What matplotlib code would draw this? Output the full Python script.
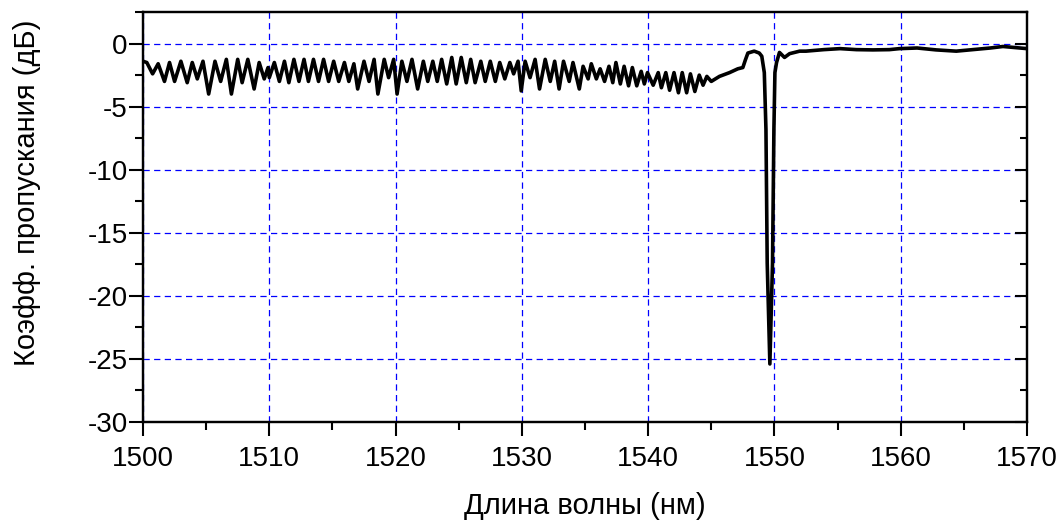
import matplotlib
matplotlib.use("Agg")
import matplotlib.pyplot as plt
from matplotlib.ticker import MultipleLocator

plt.rcParams['font.family'] = ['Liberation Sans', 'DejaVu Sans']
plt.rcParams['axes.unicode_minus'] = False

# спектр пропускания: длина волны (нм) и коэффициент пропускания (дБ)
wl_1500 = [1500.0, 1500.3, 1500.76, 1501.2, 1501.7, 1502.1, 1502.5, 1503.0, 1503.5, 1503.9,
           1504.3, 1504.75, 1505.2, 1505.7, 1506.15, 1506.6, 1507.0, 1507.5, 1507.85, 1508.3,
           1508.8, 1509.2, 1509.6, 1509.9]
tr_1500 = [-1.4, -1.5, -2.4, -1.6, -3.0, -1.5, -3.0, -1.4, -3.1, -1.5,
           -2.8, -1.4, -4.0, -1.4, -3.0, -1.25, -4.0, -1.25, -3.1, -1.25,
           -3.6, -1.5, -2.8, -1.9]

wl_1510 = [1510.0, 1510.4, 1510.8, 1511.2, 1511.55, 1511.95, 1512.35, 1512.75, 1513.1, 1513.5,
           1513.9, 1514.3, 1514.7, 1515.1, 1515.5, 1515.95, 1516.3, 1516.7, 1517.0, 1517.5,
           1517.9, 1518.3, 1518.6, 1519.1, 1519.45, 1519.85]
tr_1510 = [-2.7, -1.5, -3.0, -1.4, -3.1, -1.25, -3.0, -1.25, -3.0, -1.25,
           -3.0, -1.25, -3.0, -1.4, -3.0, -1.5, -3.0, -1.6, -3.6, -1.4,
           -3.0, -1.25, -4.0, -1.25, -2.7, -1.25]

wl_1520 = [1520.12, 1520.5, 1520.9, 1521.3, 1521.75, 1522.2, 1522.55, 1522.95, 1523.3, 1523.65,
           1524.05, 1524.45, 1524.8, 1525.2, 1525.6, 1525.95, 1526.3, 1526.75, 1527.1, 1527.5,
           1527.9, 1528.25, 1528.65, 1529.05, 1529.35, 1529.7, 1529.95]
tr_1520 = [-4.0, -1.4, -3.0, -1.25, -3.6, -1.4, -3.0, -1.4, -3.0, -1.25,
           -3.2, -1.1, -3.2, -1.1, -3.1, -1.25, -3.1, -1.4, -3.0, -1.4,
           -3.0, -1.5, -2.8, -1.5, -2.4, -1.4, -3.75]

wl_1530 = [1530.26, 1530.65, 1531.05, 1531.4, 1531.85, 1532.25, 1532.6, 1532.95, 1533.3, 1533.75,
           1534.05, 1534.55, 1534.85, 1535.25, 1535.5, 1535.9, 1536.2, 1536.55, 1536.9, 1537.2,
           1537.45, 1537.8, 1538.1, 1538.45, 1538.75, 1539.1, 1539.45, 1539.7, 1539.95]
tr_1530 = [-1.4, -2.7, -1.25, -3.6, -1.25, -3.0, -1.4, -3.6, -1.4, -3.0,
           -1.5, -3.6, -1.8, -2.8, -1.6, -2.8, -2.0, -3.0, -1.8, -3.1,
           -1.5, -3.2, -1.8, -3.35, -1.9, -3.35, -2.2, -3.2, -2.3]

wl_1540 = [1540.4, 1540.8, 1541.05, 1541.4, 1541.7, 1542.05, 1542.4, 1542.7, 1543.05, 1543.35,
           1543.7, 1544.05, 1544.35, 1544.65, 1545.0, 1545.65, 1546.45, 1547.1, 1547.5, 1547.7,
           1547.9, 1548.4, 1548.8, 1549.0]
tr_1540 = [-3.3, -2.3, -3.5, -2.3, -3.7, -2.3, -3.9, -2.3, -3.9, -2.4,
           -3.8, -2.5, -3.3, -2.6, -3.0, -2.6, -2.3, -2.0, -1.9, -1.3,
           -0.75, -0.6, -0.75, -1.0]

# резонансный провал около 1549.6 нм
wl_dip = [1549.2, 1549.33, 1549.43, 1549.64, 1549.85, 1549.96, 1550.04, 1550.17]
tr_dip = [-2.3, -6.8, -17.4, -25.4, -17.4, -6.8, -2.3, -1.5]

wl_1550 = [1550.4, 1550.8, 1551.2, 1552.0, 1552.5, 1553.9, 1555.2, 1556.5, 1557.8, 1559.1,
           1559.9, 1561.3, 1562.8, 1564.4, 1565.7, 1567.1, 1568.1, 1569.4, 1570.0]
tr_1550 = [-0.7, -1.1, -0.8, -0.6, -0.6, -0.48, -0.4, -0.48, -0.5, -0.48,
           -0.4, -0.35, -0.5, -0.6, -0.48, -0.35, -0.23, -0.35, -0.4]

wavelength = wl_1500 + wl_1510 + wl_1520 + wl_1530 + wl_1540 + wl_dip + wl_1550
transmission = tr_1500 + tr_1510 + tr_1520 + tr_1530 + tr_1540 + tr_dip + tr_1550

fig = plt.figure(figsize=(10.64, 5.24), dpi=100)
ax = fig.add_axes([0.1344, 0.1947, 0.8308, 0.7823])

ax.plot(wavelength, transmission, color='black', lw=2.6,
        solid_joinstyle='round', solid_capstyle='round', zorder=3)

ax.set_xlim(1500, 1570)
ax.set_ylim(-30, 2.5)
ax.xaxis.set_major_locator(MultipleLocator(10))
ax.xaxis.set_minor_locator(MultipleLocator(5))
ax.yaxis.set_major_locator(MultipleLocator(5))
ax.yaxis.set_minor_locator(MultipleLocator(2.5))

ax.grid(True, which='major', color='#0000ff', linestyle=(0, (5, 3.5)), linewidth=0.9)

for s in ax.spines.values():
    s.set_linewidth(1.6)

ax.tick_params(axis='both', which='major', direction='out', length=10, width=1.5,
               labelsize=20)
ax.tick_params(axis='x', which='major', pad=7)
ax.tick_params(axis='y', which='major', pad=1)
ax.tick_params(axis='both', which='minor', direction='out', length=6, width=1.5)

# правая ось: засечки внутрь, без подписей
ax_r = ax.twinx()
ax_r.set_ylim(ax.get_ylim())
ax_r.yaxis.set_major_locator(MultipleLocator(5))
ax_r.yaxis.set_minor_locator(MultipleLocator(2.5))
ax_r.tick_params(which='major', direction='in', length=9, width=1.5, labelright=False)
ax_r.tick_params(which='minor', direction='in', length=5, width=1.5)
for s in ax_r.spines.values():
    s.set_linewidth(1.6)

ax.set_xlabel('Длина волны (нм)', fontsize=21, labelpad=15)
ax.set_ylabel('Коэфф. пропускания (дБ)', fontsize=21)
ax.yaxis.set_label_coords(-0.115, 0.56)

fig.savefig('out.png', dpi=100)
